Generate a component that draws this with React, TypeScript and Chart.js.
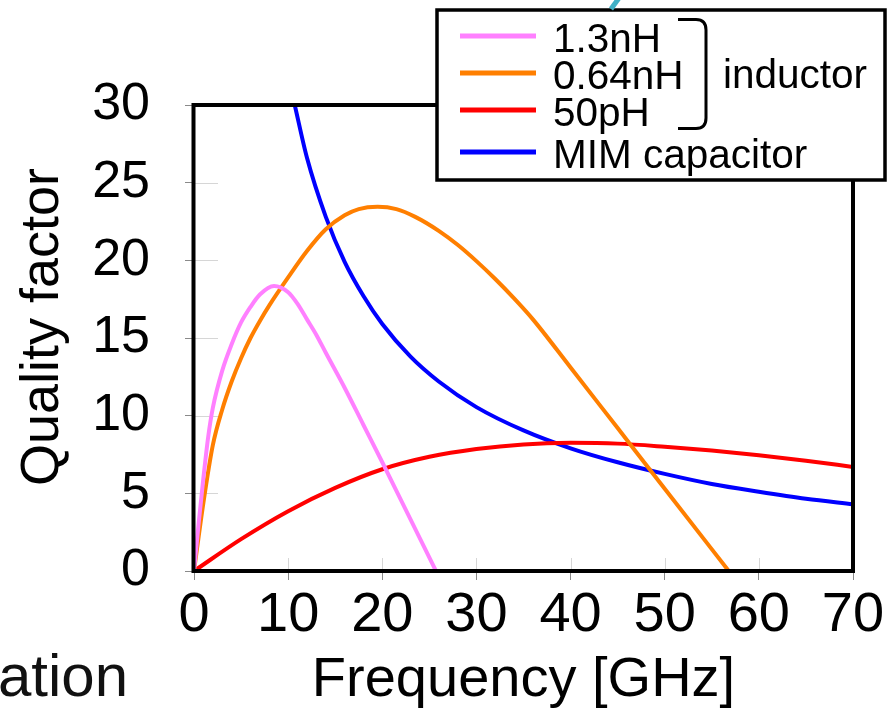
import React, { useEffect, useRef } from "react";
import { Chart, registerables } from "chart.js";

Chart.register(...registerables);

// ---- data ----
const seriesLabels = ["1.3nH", "0.64nH", "50pH", "MIM capacitor"];
const seriesColors = ["#ff80ff", "#ff7f00", "#ff0000", "#0000ff"];

const freq13nH = [0, 0.5, 1, 1.5, 2, 3, 4, 5, 6, 7, 8.5, 10, 11, 12, 13, 14, 16, 18, 20, 22, 25.7];
const q13nH = [0, 3.1, 6.0, 8.6, 10.5, 12.9, 14.6, 16.0, 17.0, 17.8, 18.35, 17.95, 17.2, 16.2, 15.2, 14.05, 11.8, 9.4, 7.0, 4.55, 0];

const freq064nH = [0, 1, 2, 3, 4, 5, 6, 7, 8, 10, 12, 14, 16, 17.5, 19.5, 21.5, 23.5, 26, 28, 30, 32, 34, 36, 40, 45, 50, 56.8];
const q064nH = [0, 4.4, 8.1, 10.4, 12.2, 13.7, 15.0, 16.1, 17.1, 18.9, 20.6, 22.0, 22.9, 23.3, 23.45, 23.3, 22.8, 21.9, 21.0, 19.95, 18.8, 17.55, 16.2, 13.1, 9.2, 5.3, 0];

const freq50pH = [0, 5, 10, 15, 20, 25, 30, 35, 40, 45, 50, 55, 60, 65, 70];
const q50pH = [0, 2.05, 3.85, 5.35, 6.55, 7.35, 7.85, 8.15, 8.25, 8.2, 8.0, 7.75, 7.45, 7.1, 6.7];

const freqMIM = [10.7, 12, 14, 16, 18, 20, 23, 26, 30, 35, 40, 45, 50, 55, 60, 65, 70];
const qMIM = [30, 26.6, 22.8, 19.9, 17.7, 15.9, 13.8, 12.2, 10.55, 9.05, 7.9, 7.0, 6.25, 5.6, 5.1, 4.65, 4.3];

const seriesFreq = [freq13nH, freq064nH, freq50pH, freqMIM];
const seriesQ = [q13nH, q064nH, q50pH, qMIM];

const xMin = 0, xMax = 70, xStep = 10;
const yMin = 0, yMax = 30, yStep = 5;

const xTitle = "Frequency [GHz]";
const yTitle = "Quality factor";
const bracketLabel = "inductor";
const cutText = "ation";

const FONT = "'Liberation Sans', Arial, Helvetica, sans-serif";

const decorPlugin = {
  id: "decor",
  beforeDatasetsDraw(chart: any) {
    const { ctx, chartArea: a, scales } = chart;
    const x = scales.x, y = scales.y;
    ctx.save();
    ctx.strokeStyle = "#d6d6d6";
    ctx.lineWidth = 1;
    y.ticks.forEach((t: any) => {
      if (t.value > y.min && t.value < y.max) {
        const py = Math.round(y.getPixelForValue(t.value)) + 0.5;
        ctx.beginPath();
        ctx.moveTo(a.left, py);
        ctx.lineTo(a.left + 24, py);
        ctx.stroke();
      }
    });
    x.ticks.forEach((t: any) => {
      if (t.value > x.min && t.value < x.max) {
        const px = Math.round(x.getPixelForValue(t.value)) + 0.5;
        ctx.beginPath();
        ctx.moveTo(px, a.bottom);
        ctx.lineTo(px, a.bottom - 13);
        ctx.stroke();
      }
    });
    ctx.restore();
  },
  afterDatasetsDraw(chart: any) {
    const { ctx, chartArea: a } = chart;
    ctx.save();
    ctx.strokeStyle = "#000";
    ctx.lineWidth = 4;
    ctx.strokeRect(a.left - 0.5, a.top, a.right - a.left + 0.5, a.bottom - a.top);
    ctx.restore();
  },
  afterDraw(chart: any) {
    const { ctx } = chart;
    ctx.save();

    // y axis title
    ctx.fillStyle = "#000";
    ctx.font = `54px ${FONT}`;
    ctx.textAlign = "center";
    ctx.textBaseline = "alphabetic";
    ctx.translate(58, 327);
    ctx.rotate(-Math.PI / 2);
    ctx.fillText(yTitle, 0, 0);
    ctx.setTransform(1, 0, 0, 1, 0, 0);

    // legend box
    const bx = 437, by = 10, bw = 448, bh = 170;
    ctx.fillStyle = "#fff";
    ctx.fillRect(bx, by, bw, bh);
    ctx.strokeStyle = "#000";
    ctx.lineWidth = 3.5;
    ctx.strokeRect(bx, by, bw, bh);

    const rowY = [36, 73, 110, 152];
    ctx.font = `40.5px ${FONT}`;
    ctx.textAlign = "left";
    ctx.textBaseline = "alphabetic";
    chart.data.datasets.forEach((ds: any, i: number) => {
      ctx.strokeStyle = ds.borderColor;
      ctx.lineWidth = 5;
      ctx.beginPath();
      ctx.moveTo(460, rowY[i]);
      ctx.lineTo(536, rowY[i]);
      ctx.stroke();
      ctx.fillStyle = "#000";
      ctx.fillText(ds.label, 553, rowY[i] + 15.5);
    });

    // bracket
    ctx.strokeStyle = "#000";
    ctx.lineWidth = 3;
    ctx.beginPath();
    ctx.moveTo(678, 19.5);
    ctx.lineTo(696, 19.5);
    ctx.quadraticCurveTo(706, 19.5, 706, 30);
    ctx.lineTo(706, 118);
    ctx.quadraticCurveTo(706, 128.5, 696, 128.5);
    ctx.lineTo(678, 128.5);
    ctx.stroke();
    ctx.fillStyle = "#000";
    ctx.fillText(bracketLabel, 723, 88);

    // cut-off slide text
    ctx.font = `60px ${FONT}`;
    ctx.fillStyle = "#111";
    ctx.fillText(cutText, -2, 696);

    // cut-off teal stroke at top
    ctx.strokeStyle = "#3fb0c6";
    ctx.lineWidth = 5;
    ctx.beginPath();
    ctx.moveTo(611, 9);
    ctx.lineTo(619, -2);
    ctx.stroke();

    ctx.restore();
  },
};

export default function App() {
  const ref = useRef<HTMLCanvasElement | null>(null);

  useEffect(() => {
    if (!ref.current) return;
    Chart.defaults.font.family = FONT;
    const chart = new Chart(ref.current, {
      type: "line",
      data: {
        datasets: seriesLabels.map((label, i) => ({
          label,
          data: seriesFreq[i].map((f, j) => ({ x: f, y: seriesQ[i][j] })),
          borderColor: seriesColors[i],
          backgroundColor: seriesColors[i],
          borderWidth: 4,
          pointRadius: 0,
          fill: false,
          cubicInterpolationMode: "monotone" as const,
        })),
      },
      options: {
        responsive: false,
        animation: false,
        layout: { padding: { left: 0, top: 105, right: 41, bottom: 0 } },
        plugins: {
          legend: { display: false },
          tooltip: { enabled: false },
          title: { display: false },
        },
        scales: {
          x: {
            type: "linear",
            min: xMin,
            max: xMax,
            afterFit: (s: any) => {
              s.height = 140;
            },
            ticks: {
              stepSize: xStep,
              autoSkip: false,
              maxRotation: 0,
              padding: 2,
              color: "#000",
              font: { size: 56 },
            },
            grid: {
              drawOnChartArea: false,
              drawTicks: true,
              tickLength: 9,
              color: "#8a8a8a",
              lineWidth: 1,
            },
            border: { display: false },
            title: {
              display: true,
              text: xTitle,
              color: "#000",
              font: { size: 56, lineHeight: 1 },
              padding: { top: 0, bottom: 2 },
            },
          },
          y: {
            type: "linear",
            min: yMin,
            max: yMax,
            afterFit: (s: any) => {
              s.width = 194;
            },
            ticks: {
              stepSize: yStep,
              autoSkip: false,
              padding: 35,
              color: "#000",
              font: { size: 52 },
            },
            grid: {
              drawOnChartArea: false,
              drawTicks: true,
              tickLength: 9,
              color: "#8a8a8a",
              lineWidth: 1,
            },
            border: { display: false },
          },
        },
      },
      plugins: [decorPlugin],
    });
    return () => chart.destroy();
  }, []);

  return (
    <div style={{ position: "absolute", left: 0, top: 0, width: 894, height: 711, background: "#fff" }}>
      <canvas ref={ref} width={894} height={711} style={{ display: "block" }} />
    </div>
  );
}
